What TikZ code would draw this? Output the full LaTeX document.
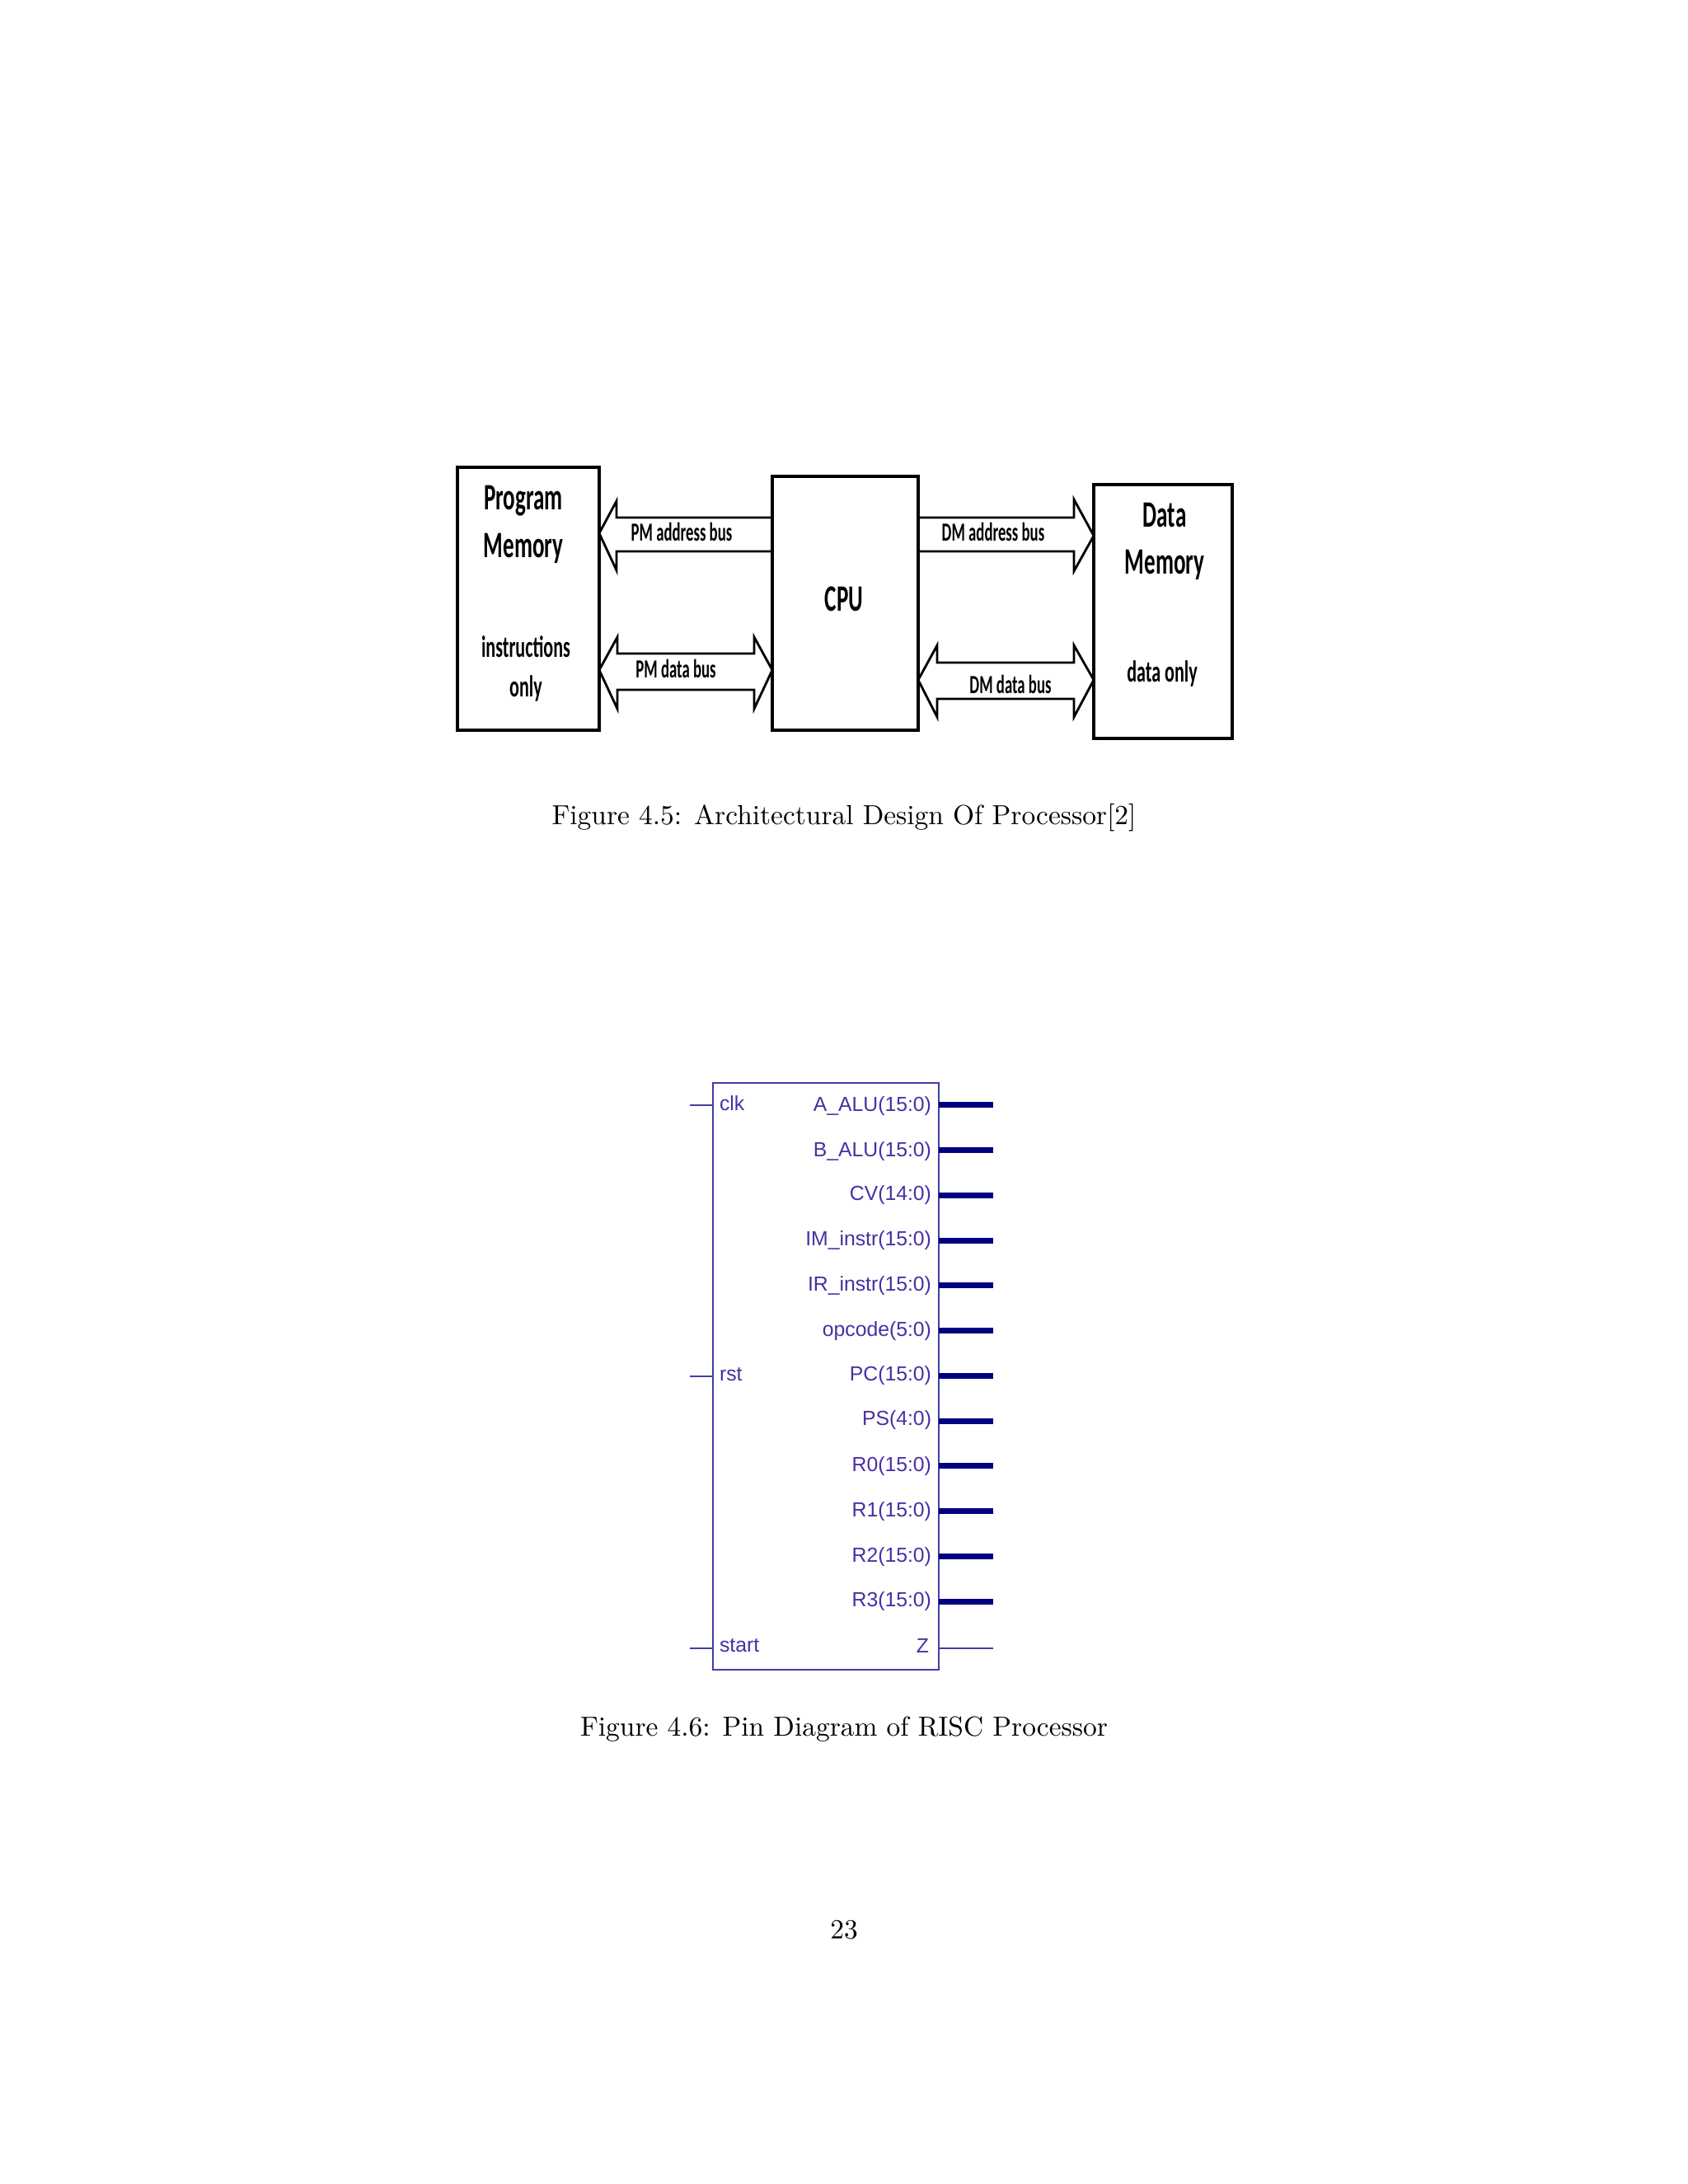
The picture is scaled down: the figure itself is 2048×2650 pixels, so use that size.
\documentclass[tikz,border=0pt]{standalone}
\usepackage{fontspec}
\newfontfamily\cali[Ligatures=TeX]{Carlito}
\newfontfamily\arial{Liberation Sans}
\def\ux{0.29883pt}
\newcommand{\bigt}[1]{\scalebox{0.6}[1]{\cali\bfseries\fontsize{13.5}{15}\selectfont #1}}
\newcommand{\midt}[1]{\scalebox{0.6}[1]{\cali\bfseries\fontsize{11}{13}\selectfont #1}}
\newcommand{\bust}[1]{\scalebox{0.59}[1]{\cali\bfseries\fontsize{9.5}{11}\selectfont #1}}
\definecolor{chipblue}{HTML}{3F3FA6}
\definecolor{pinnavy}{HTML}{000080}
\definecolor{pintext}{HTML}{4A2FA5}
\tikzset{
  blockbox/.style={draw=black,line width=1pt,inner sep=0pt,outer sep=0pt,rectangle},
  busline/.style={draw=black,line width=0.85pt,line join=miter},
  label/.style={inner sep=0pt,outer sep=0pt,anchor=center,text=black},
  pinlab/.style={inner sep=0pt,outer sep=0pt,text=pintext,font=\arial\fontsize{7.4}{9}\selectfont},
  chipbox/.style={draw=chipblue,line width=0.85pt,inner sep=0pt,outer sep=0pt,rectangle},
  thinpin/.style={draw=chipblue,line width=0.65pt},
  thickpin/.style={draw=pinnavy,line width=2.1pt},
  caption/.style={inner sep=0pt,outer sep=0pt,anchor=base,font=\fontsize{10}{12}\selectfont}
}
\begin{document}
\begin{tikzpicture}[x=\ux,y=-\ux]
\useasboundingbox[fill=white] (0,0) rectangle (2048,2650);
% Architecture blocks
\node[blockbox,minimum width=172*\ux,minimum height=319*\ux] (pm) at (641,726.5) {};
\node[blockbox,minimum width=177*\ux,minimum height=308*\ux] (cpu) at (1025.5,732) {};
\node[blockbox,minimum width=168*\ux,minimum height=308*\ux] (dm) at (1411,742) {};
\node[label] (t1) at (635,608) {\bigt{Program}};
\node[label] (t2) at (635,665) {\bigt{Memory}};
\node[label] (t3) at (638,785) {\midt{instructions}};
\node[label] (t4) at (638,835) {\midt{only}};
\node[label] (t5) at (1024,727) {\bigt{CPU}};
\node[label] (t6) at (1413,625) {\bigt{Data}};
\node[label] (t7) at (1413,685) {\bigt{Memory}};
\node[label] (t8) at (1410,817) {\midt{data only}};
% Buses
\draw[busline] (cpu.west |- 0,628) -- (748,628) -- (748,608) -- (pm.east |- 0,647) -- (748,692) -- (748,669) -- (cpu.west |- 0,669);
\draw[busline] (pm.east |- 0,813) -- (749,773) -- (749,793) -- (915,793) -- (915,773) -- (cpu.west |- 0,813)
  (pm.east |- 0,813) -- (749,860) -- (749,837) -- (915,837) -- (915,860) -- (cpu.west |- 0,813);
\draw[busline] (cpu.east |- 0,628) -- (1303,628) -- (1303,606) -- (dm.west |- 0,650) -- (1303,693) -- (1303,669) -- (cpu.east |- 0,669);
\draw[busline] (cpu.east |- 0,825) -- (1137,783) -- (1137,804) -- (1303,804) -- (1303,783) -- (dm.west |- 0,825)
  (cpu.east |- 0,825) -- (1137,870) -- (1137,848) -- (1303,848) -- (1303,870) -- (dm.west |- 0,825);
\node[label] (b1) at (827,645) {\bust{PM address bus}};
\node[label] (b2) at (820,811) {\bust{PM data bus}};
\node[label] (b3) at (1205,645) {\bust{DM address bus}};
\node[label] (b4) at (1226,830) {\bust{DM data bus}};
% Captions
\node[caption] (c1) at (1024,1000) {Figure 4.5: Architectural Design Of Processor[2]};
% Pin diagram
\node[chipbox,minimum width=274*\ux,minimum height=712*\ux] (chip) at (1002,1670) {};
\foreach \n/\ly/\by/\txt in {a/1340/1348/{A\_ALU(15:0)},b/1395/1403/{B\_ALU(15:0)},c/1450/1456/{CV(14:0)},d/1505/1511/{IM\_instr(15:0)},e/1559/1566/{IR\_instr(15:0)},f/1614/1621/{opcode(5:0)},g/1669/1675/{PC(15:0)},h/1724/1729/{PS(4:0)},i/1778/1785/{R0(15:0)},j/1833/1840/{R1(15:0)},k/1888/1895/{R2(15:0)},l/1943/1949/{R3(15:0)}}{
  \node[pinlab,anchor=base east] (p\n) at (1130,\by) {\txt};
  \coordinate (e\n) at (1205,\ly);
  \draw[thickpin] (chip.east |- e\n) -- (e\n);
}
\node[pinlab,anchor=base east] (pz) at (1127,2005) {Z};
\coordinate (ez) at (1205,2000);
\draw[thinpin] (chip.east |- ez) -- (ez);
\foreach \n/\ly/\by/\txt in {clk/1341/1347/clk,rst/1670/1675/rst,start/2000/2004/start}{
  \node[pinlab,anchor=base west] (p\n) at (873,\by) {\txt};
  \coordinate (e\n) at (837,\ly);
  \draw[thinpin] (e\n) -- (chip.west |- e\n);
}
\node[caption] (c2) at (1024,2106) {Figure 4.6: Pin Diagram of RISC Processor};
\node[caption] (pg) at (1024,2352) {23};
\end{tikzpicture}
\end{document}
